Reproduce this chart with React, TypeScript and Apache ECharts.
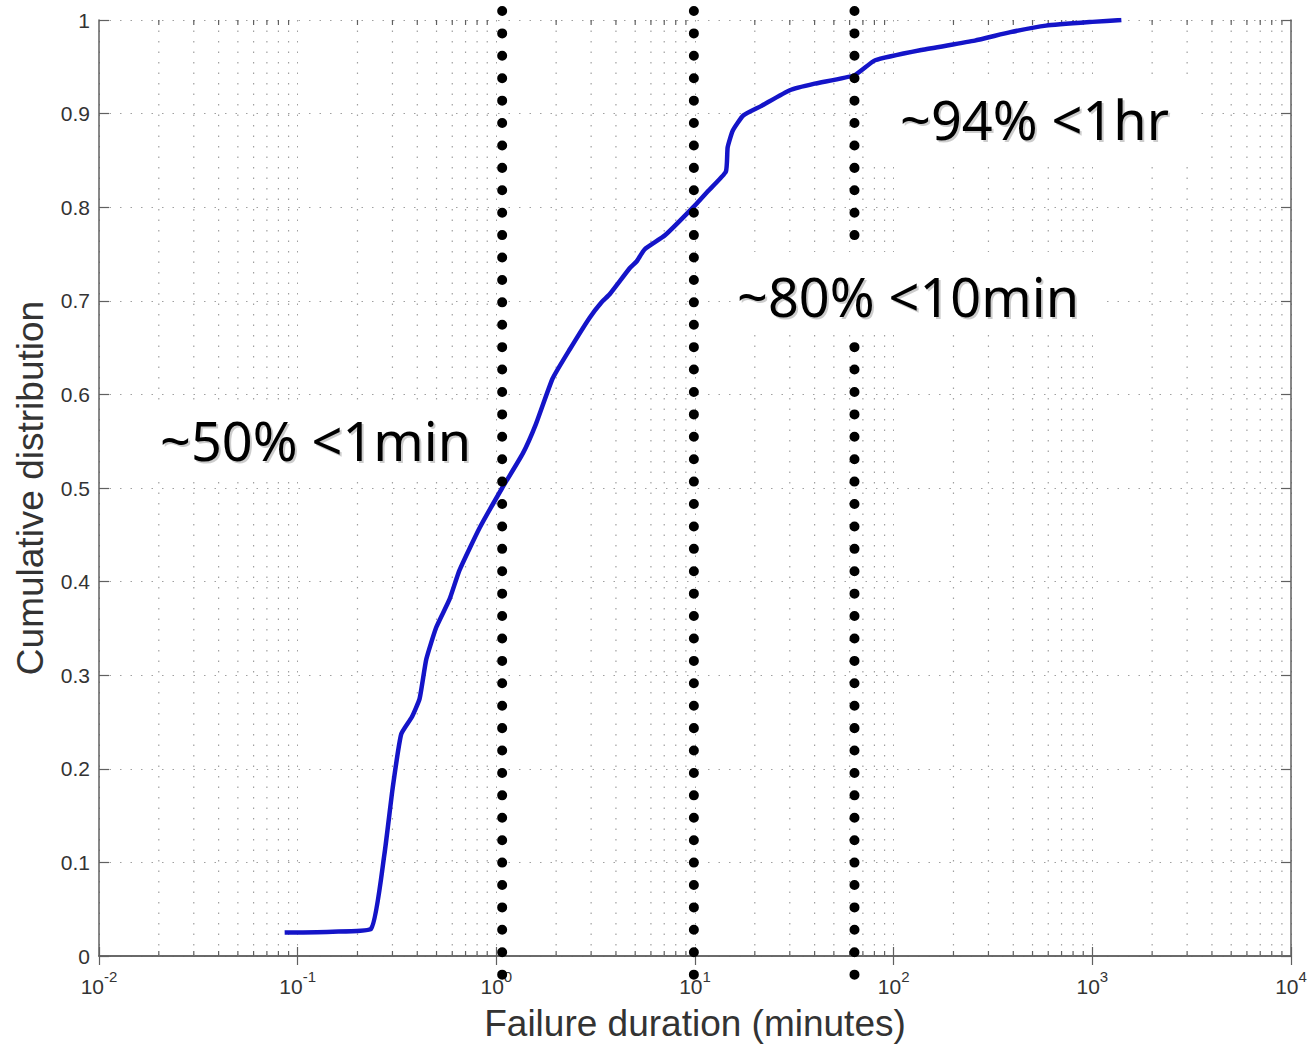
import React, { useEffect, useRef } from "react";
import * as echarts from "echarts";

// Failure duration (minutes) and cumulative distribution
const durationMinutes = [
  0.086, 0.15, 0.234, 0.273, 0.301, 0.332, 0.375, 0.411, 0.444, 0.498, 0.581, 0.652,
  0.822, 1.07, 1.36, 1.58, 1.92, 2.34, 2.95, 3.37, 3.72, 4.7, 5.08, 5.58, 7.06, 10,
  11.6, 14.3, 14.6, 15.5, 17.5, 21.5, 30, 40, 63.5, 80.7, 138, 256, 387, 585, 1000, 1400,
];
const cumulative = [
  0.025, 0.026, 0.029, 0.108, 0.18, 0.237, 0.255, 0.275, 0.317, 0.351, 0.381, 0.412,
  0.457, 0.5, 0.537, 0.568, 0.617, 0.648, 0.682, 0.698, 0.707, 0.735, 0.742, 0.755, 0.77, 0.802,
  0.817, 0.838, 0.864, 0.882, 0.898, 0.908, 0.925, 0.932, 0.941, 0.957, 0.968, 0.978, 0.987, 0.994, 0.998, 1.0,
];

// vertical dotted marker lines (minutes)
const markerDurations = [1.07, 9.87, 63.5];

// annotation texts
const annotationTexts = ["~50% <1min", "~80% <10min", "~94% <1hr"];

// axis structure
const xMin = 0.01;
const xMax = 10000;
const decadeExponents = [-2, -1, 0, 1, 2, 3];
const minorMultipliers = [2, 3, 4, 5, 6, 7, 8, 9];
const yMin = 0;
const yMax = 1;
const yInterval = 0.1;

const xTitle = "Failure duration (minutes)";
const yTitle = "Cumulative distribution";

const minorTickValues: number[] = [];
decadeExponents.forEach((e) => {
  minorMultipliers.forEach((m) => minorTickValues.push(m * Math.pow(10, e)));
});

const GRID_COLOR = "#a0a0a0";
const AXIS_COLOR = "#606060";
const LABEL_COLOR = "#333";
const FONT = "'Liberation Sans', Arial, Helvetica, sans-serif";
const ANNOT_FONT = "'Noto Sans', 'Open Sans', sans-serif";

export default function App() {
  const ref = useRef<HTMLDivElement>(null);

  useEffect(() => {
    document.body.style.margin = "0";
    if (!ref.current) return;
    const chart = echarts.init(ref.current, null, { renderer: "svg" });

    const lineData = durationMinutes.map((d, i) => [d, cumulative[i]]);

    const xAxisBase = {
      type: "log" as const,
      logBase: 10,
      min: xMin,
      max: xMax,
      axisLine: { show: true, lineStyle: { color: AXIS_COLOR, width: 1.5 } },
      axisTick: { show: true, inside: true, length: 9, lineStyle: { color: AXIS_COLOR, width: 1.2 } },
      minorTick: { show: false },
    };
    const yAxisBase = {
      type: "value" as const,
      min: yMin,
      max: yMax,
      interval: yInterval,
      axisLine: { show: true, lineStyle: { color: AXIS_COLOR, width: 1.5 } },
      axisTick: { show: true, inside: true, length: 10, lineStyle: { color: AXIS_COLOR, width: 1.2 } },
    };

    const annotPos = [
      { box: [150, 400, 343, 77], tx: 160, ty: 440 },
      { box: [733, 252, 368, 81], tx: 737, ty: 296 },
      { box: [872, 75, 321, 85], tx: 900, ty: 119 },
    ];

    const graphics: any[] = [];
    annotationTexts.forEach((t, i) => {
      const p = annotPos[i];
      graphics.push({
        type: "rect",
        z: 100,
        shape: { x: p.box[0], y: p.box[1], width: p.box[2], height: p.box[3] },
        style: { fill: "#fff" },
        silent: true,
      });
      graphics.push({
        type: "text",
        z: 101,
        x: p.tx,
        y: p.ty,
        style: {
          text: t,
          fill: "#000",
          fontSize: 54,
          fontFamily: ANNOT_FONT,
          fontWeight: 400,
          textAlign: "left",
          textVerticalAlign: "middle",
          textShadowColor: "rgba(0,0,0,0.2)",
          textShadowBlur: 1,
          textShadowOffsetX: 2,
          textShadowOffsetY: 2,
        },
        silent: true,
      });
    });

    chart.setOption({
      animation: false,
      backgroundColor: "#fff",
      grid: { left: 99, right: 21, top: 20, bottom: 90, containLabel: false },
      xAxis: [
        {
          ...xAxisBase,
          position: "bottom",
          name: xTitle,
          nameLocation: "middle",
          nameGap: 49,
          nameTextStyle: { fontSize: 37, color: LABEL_COLOR, fontFamily: FONT },
          splitLine: { show: true, lineStyle: { color: GRID_COLOR, width: 1, type: [1.5, 9] } },
          axisLabel: {
            show: true,
            margin: 13,
            showMinLabel: true,
            showMaxLabel: true,
            formatter: (v: number) => `{b|10}{s|${Math.round(Math.log10(v))}}`,
            rich: {
              b: { fontSize: 21, fontFamily: FONT, color: LABEL_COLOR, lineHeight: 28, verticalAlign: "bottom" },
              s: { fontSize: 15, fontFamily: FONT, color: LABEL_COLOR, lineHeight: 13, verticalAlign: "top" },
            },
          },
        },
        {
          ...xAxisBase,
          position: "top",
          splitLine: { show: false },
          axisLabel: { show: false },
        },
      ],
      yAxis: [
        {
          ...yAxisBase,
          position: "left",
          name: yTitle,
          nameLocation: "middle",
          nameGap: 50,
          nameTextStyle: { fontSize: 37, color: LABEL_COLOR, fontFamily: FONT },
          splitLine: { show: true, lineStyle: { color: GRID_COLOR, width: 1, type: [1.5, 9] } },
          axisLabel: {
            show: true,
            margin: 9,
            fontSize: 21,
            fontFamily: FONT,
            color: LABEL_COLOR,
            formatter: (v: number) => (v === 0 ? "0" : v === 1 ? "1" : v.toFixed(1)),
          },
        },
        {
          ...yAxisBase,
          position: "right",
          splitLine: { show: false },
          axisLabel: { show: false },
        },
      ],
      series: [
        {
          type: "custom",
          name: "minorGrid",
          xAxisIndex: 0,
          yAxisIndex: 0,
          silent: true,
          z: 1,
          data: minorTickValues.map((v) => [v, 0]),
          renderItem: (params: any, api: any) => {
            const x = api.coord([api.value(0), 0])[0];
            const cs = params.coordSys;
            const top = cs.y;
            const bottom = cs.y + cs.height;
            return {
              type: "group",
              children: [
                {
                  type: "line",
                  shape: { x1: x, y1: top, x2: x, y2: bottom },
                  style: { stroke: GRID_COLOR, lineWidth: 1.2, lineDash: [1.5, 9] },
                },
                {
                  type: "line",
                  shape: { x1: x, y1: bottom, x2: x, y2: bottom - 5 },
                  style: { stroke: AXIS_COLOR, lineWidth: 1.2 },
                },
                {
                  type: "line",
                  shape: { x1: x, y1: top, x2: x, y2: top + 5 },
                  style: { stroke: AXIS_COLOR, lineWidth: 1.2 },
                },
              ],
            };
          },
        },
        {
          type: "line",
          name: "CDF",
          xAxisIndex: 0,
          yAxisIndex: 0,
          data: lineData,
          showSymbol: false,
          symbol: "none",
          smooth: 0.15,
          z: 5,
          lineStyle: { color: "#1414c8", width: 4.5 },
        },
        {
          type: "custom",
          name: "markers",
          xAxisIndex: 0,
          yAxisIndex: 0,
          silent: true,
          z: 10,
          data: markerDurations.map((v) => [v, 0.5]),
          renderItem: (params: any, api: any) => {
            const x = api.coord([api.value(0), 0.5])[0];
            const cs = params.coordSys;
            return {
              type: "line",
              shape: { x1: x, y1: cs.y - 9, x2: x, y2: cs.y + cs.height + 22 },
              style: { stroke: "#000", lineWidth: 10, lineDash: [0.01, 22.4], lineCap: "round" },
            };
          },
        },
      ],
      graphic: graphics,
    });

    return () => chart.dispose();
  }, []);

  return <div ref={ref} style={{ width: 1312, height: 1047 }} />;
}
